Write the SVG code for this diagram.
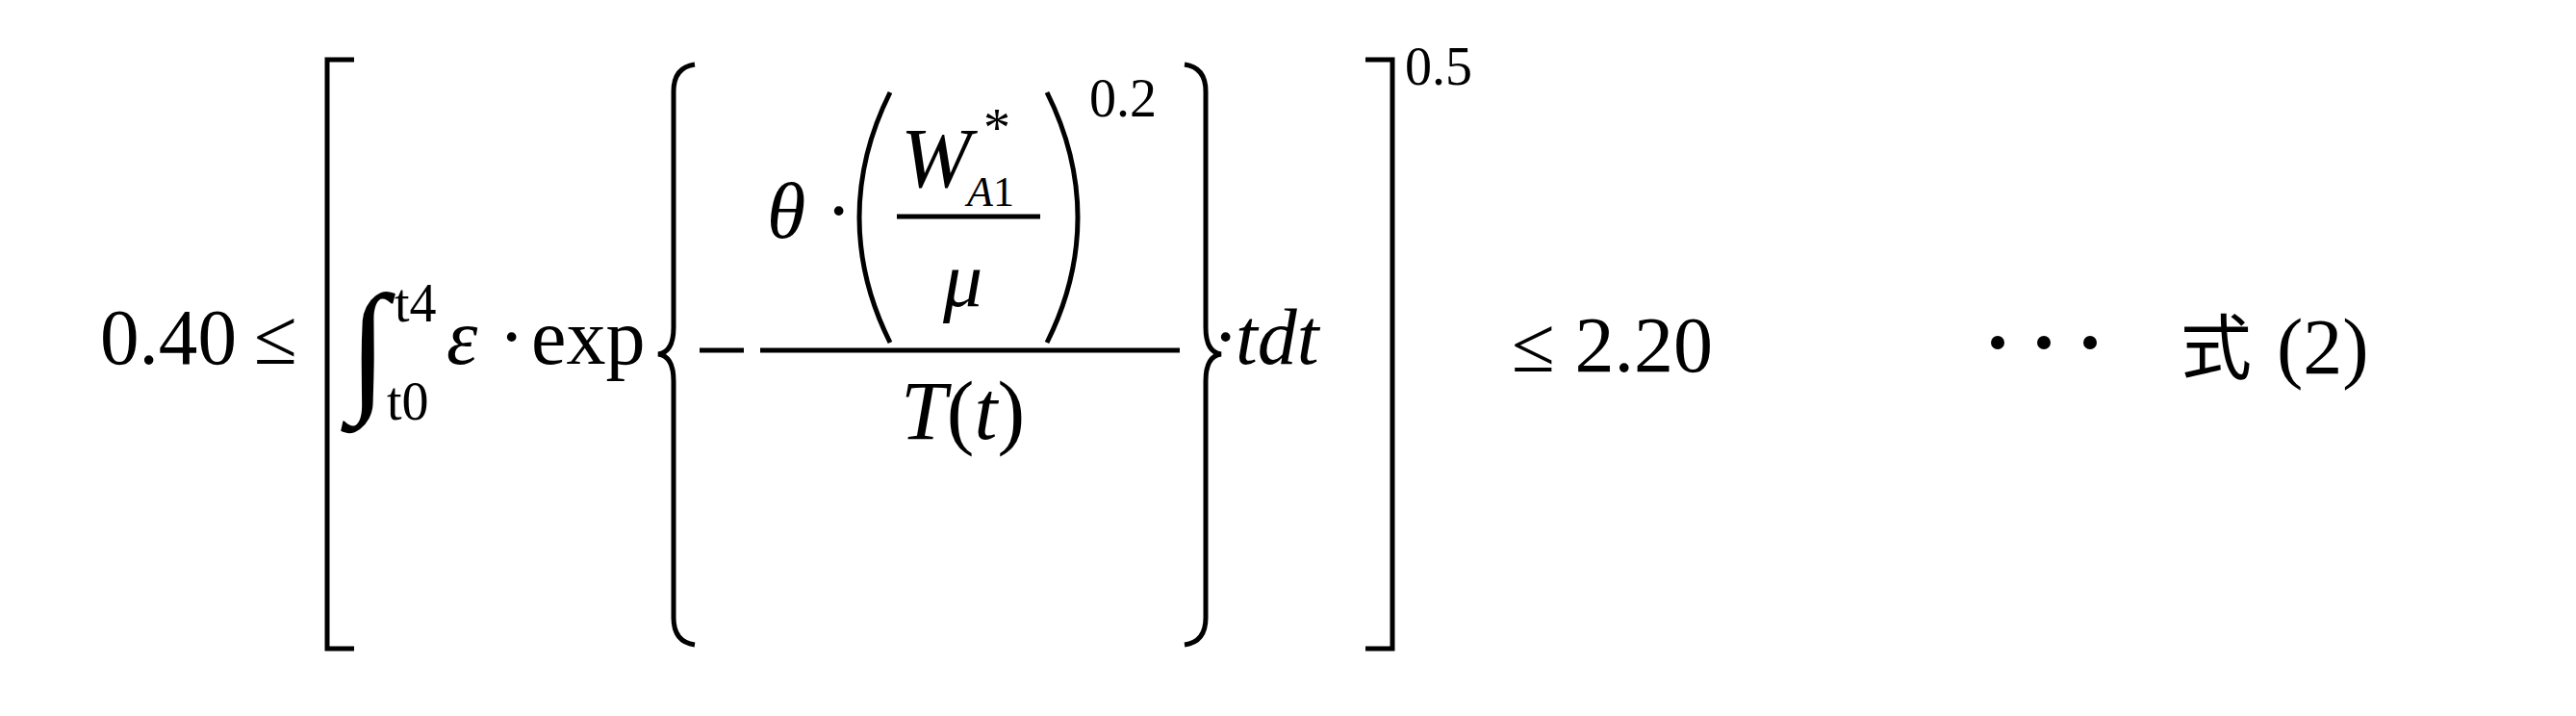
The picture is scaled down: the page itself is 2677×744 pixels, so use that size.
<svg xmlns="http://www.w3.org/2000/svg" width="2677" height="744" viewBox="0 0 2677 744">
<style>
text{font-family:"Liberation Serif","Times New Roman",serif;fill:#000}
.m{font-size:82px}
.i{font-style:italic}
.s{font-size:56px}
.ln{stroke:#000;stroke-width:5;fill:none}
</style>
<rect width="2677" height="744" fill="#fff"/>
<g id="lhs"><text class="m" x="104" y="378" textLength="142" lengthAdjust="spacingAndGlyphs">0.40</text><text class="m" x="264" y="378">≤</text></g>
<g id="brackets">
<path class="ln" d="M368,62 H340 V674 H368"/>
<path class="ln" d="M1419,62 H1447 V674 H1419"/>
<text class="s" x="1460" y="88">0.5</text>
</g>
<g id="integral">
<text style="font-size:150px" x="362" y="410">∫</text>
<text class="s" x="410" y="334">t4</text>
<text class="s" x="402" y="436">t0</text>
<text class="m i" x="464" y="378">ε</text>
<text class="m" x="518" y="378">·</text>
<text class="m" x="552" y="378">exp</text>
</g>
<g id="braces">
<path class="ln" d="M722,67 Q700,70 700,95 V340 Q700,366 684,368 Q700,370 700,396 V642 Q700,667 722,670"/>
<path class="ln" d="M1231,67 Q1253,70 1253,95 V340 Q1253,366 1269,368 Q1253,370 1253,396 V642 Q1253,667 1231,670"/>
</g>
<g id="fraction">
<line class="ln" x1="727" y1="364" x2="773" y2="364"/>
<line class="ln" x1="790" y1="364" x2="1226" y2="364"/>
<text class="m i" x="797" y="247">θ</text>
<text class="m" x="858" y="247">·</text>
<path class="ln" d="M925,96 Q893,160 893,226 Q893,292 925,356"/>
<path class="ln" d="M1088,96 Q1120,160 1120,226 Q1120,292 1088,356"/>
<text class="i" style="font-size:88px" x="936" y="194">W</text>
<text class="s" x="1022" y="152">*</text>
<text style="font-size:44px" x="1005" y="214"><tspan class="i">A</tspan>1</text>
<line class="ln" x1="932" y1="225" x2="1081" y2="225"/>
<text class="m i" x="980" y="318">μ</text>
<text class="s" x="1132" y="121">0.2</text>
<text style="font-size:86px" x="936" y="456"><tspan class="i">T</tspan>(<tspan class="i">t</tspan>)</text>
</g>
<g id="tail">
<text class="m" x="1260" y="378">·</text>
<text class="m i" x="1284" y="378">tdt</text>
<text class="m" x="1571" y="386">≤ 2.20</text>
<circle cx="2076" cy="356" r="7"/><circle cx="2124" cy="356" r="7"/><circle cx="2172" cy="356" r="7"/>
<text style="font-size:74px;font-family:'Noto Sans CJK JP','Liberation Serif',serif" x="2266" y="388">式</text>
<text class="m" x="2366" y="388">(2)</text>
</g>
</svg>
